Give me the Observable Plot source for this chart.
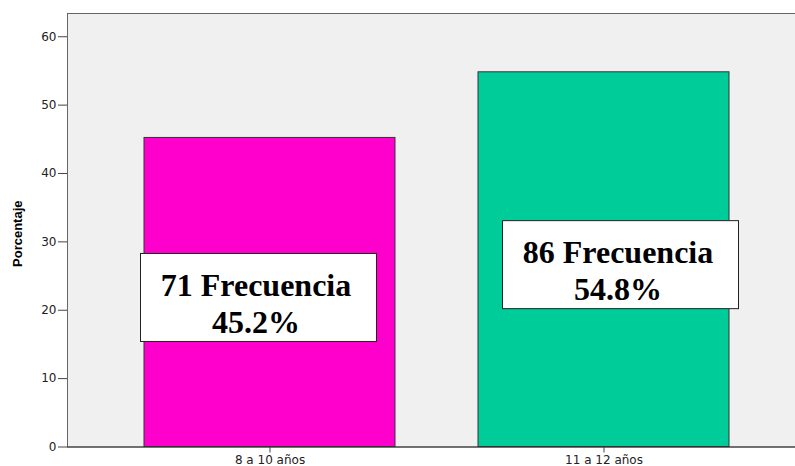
<!DOCTYPE html>
<html><head><meta charset="utf-8">
<script src="https://cdn.jsdelivr.net/npm/d3@7"></script>
<script src="https://cdn.jsdelivr.net/npm/@observablehq/plot@0.6"></script>
<style>
body{margin:0;background:#fff;}
#chart svg{display:block;}
</style>
</head><body><div id="chart"></div>
<script>
const categories = ["8 a 10 años", "11 a 12 años"];
const percentages = [45.2, 54.8];
const frequencies = [71, 86];
const barColors = ["#ff00cc", "#00cc99"];
const yTicks = [0, 10, 20, 30, 40, 50, 60];
const yLabel = "Porcentaje";

const data = categories.map((c, i) => ({
  category: c,
  pct: percentages[i],
  label: `${frequencies[i]} Frecuencia\n${percentages[i].toFixed(1)}%`
}));

// draws a white framed box behind each text of a text mark (same group transform)
function boxed(bx, by, w, h) {
  return (index, scales, values, dims, ctx, next) => {
    const g = next(index, scales, values, dims, ctx);
    const ns = "http://www.w3.org/2000/svg";
    for (const i of index) {
      const r = document.createElementNS(ns, "rect");
      r.setAttribute("x", values.x[i] + bx - w / 2);
      r.setAttribute("y", values.y[i] + by - h / 2);
      r.setAttribute("width", w);
      r.setAttribute("height", h);
      r.setAttribute("fill", "#ffffff");
      r.setAttribute("stroke", "#222");
      r.setAttribute("stroke-width", 1);
      g.insertBefore(r, g.firstChild);
    }
    return g;
  };
}

const labelStyle = {
  x: "category",
  y: d => d.pct / 2,
  text: "label",
  fontFamily: "'Liberation Serif', 'Times New Roman', serif",
  fontWeight: "bold",
  fontSize: 32,
  lineHeight: 1.15,
  fill: "#000",
  dy: 10,
  render: boxed(2.5, -5, 236, 88)
};

const chart = Plot.plot({
  width: 795,
  height: 466,
  marginLeft: 67,
  marginRight: 0,
  marginTop: 13,
  marginBottom: 19.5,
  style: {fontFamily: "'DejaVu Sans', sans-serif", fontSize: "12px", color: "#222", background: "#fff"},
  x: {type: "band", domain: categories, paddingInner: 0.2485, paddingOuter: 0.214, align: 0.54, label: null},
  y: {domain: [0, 63.4], ticks: yTicks, label: null},
  color: {domain: categories, range: barColors},
  marks: [
    Plot.frame({fill: "#f0f0f0", stroke: "#666", insetRight: -3}),
    Plot.barY(data, {x: "category", y: "pct", fill: "category", stroke: "#333", strokeWidth: 1}),
    Plot.ruleY([0], {stroke: "#333"}),
    Plot.axisY({ticks: yTicks, tickSize: 9, tickPadding: 2, label: null, stroke: "#444"}),
    Plot.axisX({tickSize: 6, tickPadding: 2, label: null, stroke: "#444"}),
    Plot.text([yLabel], {frameAnchor: "left", textAnchor: "middle", dx: -49.5, dy: 3.5, rotate: -90, fontWeight: "bold", fontSize: 13, fontFamily: "'Liberation Sans', Arial, sans-serif", fill: "#000"}),
    Plot.text(data, {...labelStyle, filter: d => d.category === categories[0], dx: -14}),
    Plot.text(data, {...labelStyle, filter: d => d.category === categories[1], dx: 14})
  ]
});
document.getElementById("chart").appendChild(chart);
</script>
</body></html>
